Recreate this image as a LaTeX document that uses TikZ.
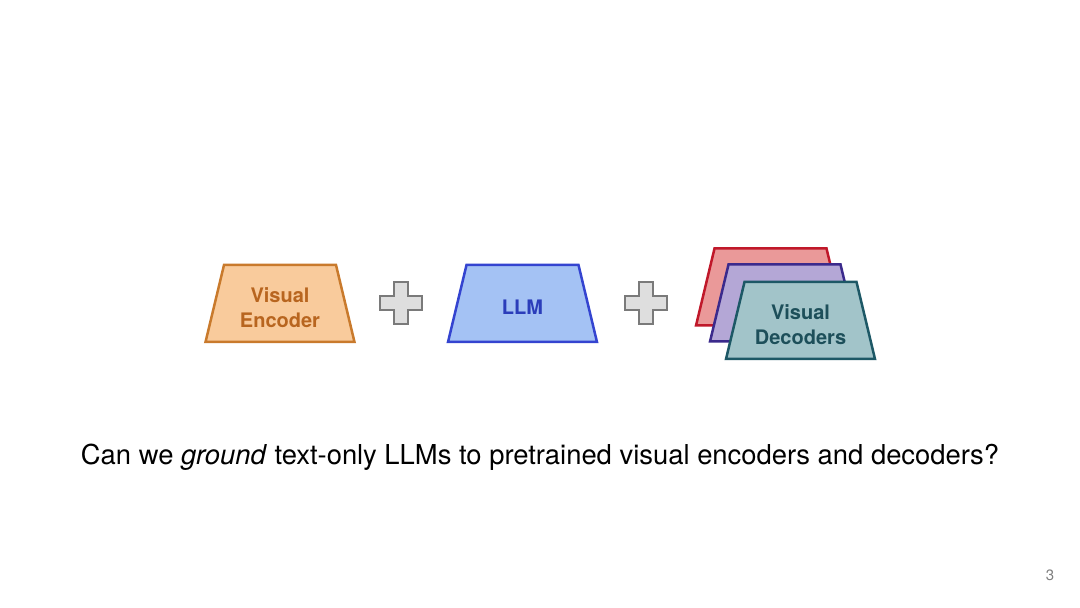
\documentclass[tikz,border=0pt]{standalone}
\usepackage{fontspec}
\setmainfont{TeX Gyre Heros}
\usepackage{xcolor}
\usetikzlibrary{shapes.geometric}

\definecolor{encfill}{HTML}{F9CB9C}
\definecolor{encline}{HTML}{C97A2C}
\definecolor{enctext}{HTML}{B8651F}
\definecolor{llmfill}{HTML}{A4C2F4}
\definecolor{llmline}{HTML}{3444D0}
\definecolor{llmtext}{HTML}{2B3DBA}
\definecolor{redfill}{HTML}{EA9999}
\definecolor{redline}{HTML}{C0182A}
\definecolor{purfill}{HTML}{B4A7D6}
\definecolor{purline}{HTML}{3B2A8C}
\definecolor{tealfill}{HTML}{A2C4C9}
\definecolor{tealline}{HTML}{1D5866}
\definecolor{tealtext}{HTML}{1D4F5A}

\begin{document}
\begin{tikzpicture}[x=0.5pt,y=-0.5pt,
  block/.style={trapezium, trapezium angle=76.5, inner sep=0pt,
    text width=56pt, text height=19.25pt, text depth=19.25pt, line width=1.25pt},
  blocktext/.style={align=center, yshift=-2pt, font=\fontsize{10}{12.5}\selectfont\bfseries},
  plussign/.style={draw=black!52, fill=black!13, line width=1.4pt}]
\useasboundingbox (0,0) rectangle (1080,608);

\node[block, draw=encline, fill=encfill,
  label={[blocktext, text=enctext]center:Visual\\Encoder}] (enc) at (280,303.5) {};
\node[block, draw=llmline, fill=llmfill,
  label={[blocktext, text=llmtext]center:LLM}] (llm) at (522.5,303.5) {};
\node[block, draw=redline, fill=redfill] (decr) at (770.5,287) {};
\node[block, draw=purline, fill=purfill] (decp) at (784.5,303) {};
\node[block, draw=tealline, fill=tealfill,
  label={[blocktext, text=tealtext]center:Visual\\Decoders}] (dect) at (800.5,320.5) {};

\coordinate (p1) at (401,303);
\coordinate (p2) at (646,303);
\foreach \c in {p1,p2}
  \draw[plussign, shift={(\c)}] (-7,-21) -- (7,-21) -- (7,-7) -- (21,-7) -- (21,7) -- (7,7)
    -- (7,21) -- (-7,21) -- (-7,7) -- (-21,7) -- (-21,-7) -- (-7,-7) -- cycle;

\node[font=\fontsize{13.7}{16}\selectfont] (q) at (540,457)
  {Can we \textit{ground} text-only LLMs to pretrained visual encoders and decoders?};
\node[font=\fontsize{7.5}{9}\selectfont, text=black!50] (pg) at (1050,575) {3};
\end{tikzpicture}
\end{document}
